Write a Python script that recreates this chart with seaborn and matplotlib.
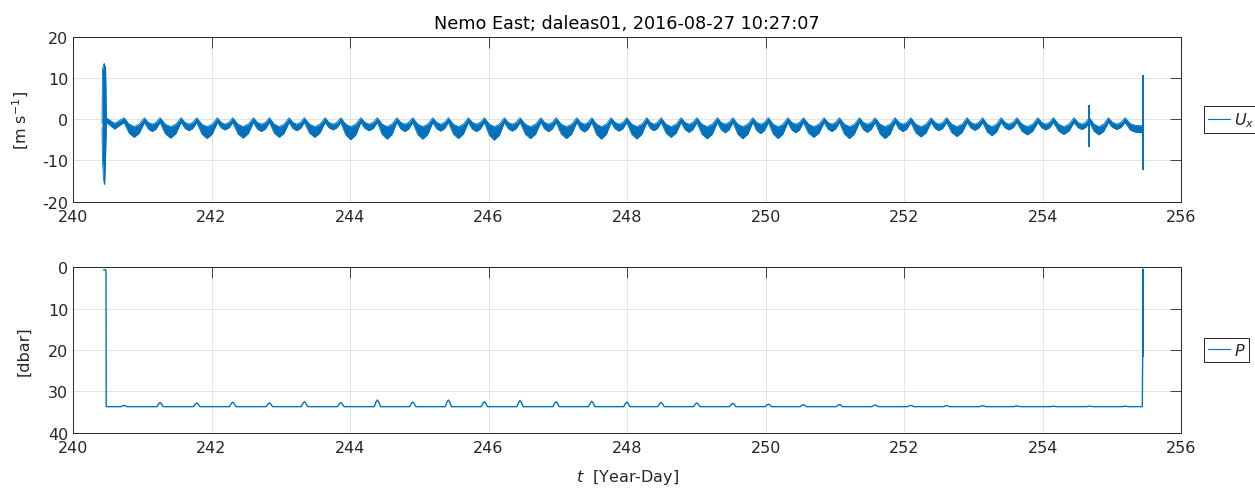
import numpy as np
import pandas as pd
import matplotlib
matplotlib.use("Agg")
import matplotlib.pyplot as plt
from matplotlib.lines import Line2D
import seaborn as sns

TITLE = "Nemo East; daleas01, 2016-08-27 10:27:07"
X_TICKS = [240, 242, 244, 246, 248, 250, 252, 254, 256]
UX_TICKS = [-20, -10, 0, 10, 20]
P_TICKS = [0, 10, 20, 30, 40]

# --- U_x record -------------------------------------------------------------
# year-day of each tidal crest of U_x (m/s)
crest_days = [
    240.736, 241.030, 241.256, 241.560, 241.786, 242.084, 242.306, 242.604,
    242.835, 243.119, 243.340, 243.639, 243.866, 244.155, 244.394, 244.675,
    244.905, 245.194, 245.420, 245.708, 245.939, 246.228, 246.455, 246.754,
    246.975, 247.274, 247.490, 247.769, 247.996, 248.285, 248.491, 248.780,
    249.007, 249.304, 249.527, 249.815, 250.040, 250.321, 250.546, 250.845,
    251.066, 251.355, 251.581, 251.870, 252.097, 252.390, 252.614, 252.910,
    253.134, 253.401, 253.628, 253.931, 254.156, 254.455, 254.676, 254.950,
    255.191,
]
# deepest U_x reached between consecutive crests (long and short troughs alternate)
trough_min = [
    -4.4, -3.0, -4.6, -2.8, -4.7, -2.6, -4.6, -3.0, -4.4, -2.8, -4.4, -2.6,
    -5.0, -2.8, -4.85, -3.0, -4.85, -2.9, -4.7, -3.0, -5.1, -2.9, -4.7, -3.0,
    -4.7, -3.1, -4.85, -2.9, -4.8, -2.8, -4.4, -3.2, -4.75, -3.3, -4.75, -3.5,
    -4.7, -3.3, -4.4, -3.0, -4.7, -3.2, -4.7, -3.0, -4.3, -2.8, -4.2, -2.7,
    -4.0, -2.6, -3.8, -2.6, -3.7, -2.5, -3.8, -2.5,
]
# upper edge of the noisy band inside each trough
trough_top = [
    -1.8 if k % 2 == 0 else -1.2 for k in range(len(trough_min))
]
crest_top, crest_bottom = 0.35, -0.8

# deployment / recovery bursts and the glitch near day 254.7
burst_days = [240.418, 240.425, 240.440, 240.452, 240.457, 240.470, 240.482]
burst_hi = [-1.0, 12.0, 13.3, 13.5, 13.0, 12.6, 0.3]
burst_lo = [-2.0, -10.0, -14.5, -15.6, -15.8, -9.0, -0.8]
lead_days = [240.482, 240.600]
lead_hi = [0.3, -1.0]
lead_lo = [-0.8, -2.4]
tail_day, tail_min = 255.447, -3.3
spike_days = [254.676, 255.447]
spike_hi = [3.5, 10.8]
spike_lo = [-6.7, -12.3]

# --- Pressure record ---------------------------------------------------------
p_floor = 33.7
bump_days = [
    240.736, 241.256, 241.786, 242.306, 242.835, 243.340, 243.866, 244.394,
    244.905, 245.420, 245.939, 246.455, 246.975, 247.490, 247.996, 248.491,
    249.007, 249.527, 250.040, 250.546, 251.066, 251.581, 252.097, 252.614,
    253.134, 253.628, 254.156, 254.676, 255.191,
]
bump_height = [
    0.3, 1.0, 0.9, 1.1, 0.9, 1.2, 1.0, 1.6, 1.1, 1.6, 1.2, 1.5, 1.2, 1.3, 1.1,
    1.0, 0.9, 0.8, 0.6, 0.5, 0.5, 0.4, 0.3, 0.25, 0.2, 0.15, 0.1, 0.1, 0.1,
]
surface_start_days = [240.440, 240.470, 240.476, 240.479]
surface_start_p = [0.6, 0.6, 0.9, p_floor]
surface_end_days = [255.440, 255.445, 255.448, 255.452, 255.455]
surface_end_p = [p_floor, 22.0, 0.4, 21.5, 0.6]

BLUE = "#0072BD"
INK = "#262626"

# ---- assemble the U_x band ------------------------------------------------
fracs = [0.25, 0.5, 0.75]
shape = [0.72, 1.0, 0.72]
t_u, hi_u, lo_u = list(burst_days), list(burst_hi), list(burst_lo)
t_u += lead_days
hi_u += lead_hi
lo_u += lead_lo
for i in range(len(crest_days) - 1):
    a, b = crest_days[i], crest_days[i + 1]
    t_u.append(a); hi_u.append(crest_top); lo_u.append(crest_bottom)
    for f, s in zip(fracs, shape):
        t_u.append(a + f * (b - a))
        hi_u.append(crest_top + s * (trough_top[i] - crest_top))
        lo_u.append(crest_bottom + s * (trough_min[i] - crest_bottom))
a = crest_days[-1]
t_u.append(a); hi_u.append(crest_top); lo_u.append(crest_bottom)
for f, s in zip([0.3, 0.6, 1.0], [0.75, 0.95, 1.0]):
    t_u.append(a + f * (tail_day - a))
    hi_u.append(crest_top + s * (-1.6 - crest_top))
    lo_u.append(crest_bottom + s * (tail_min - crest_bottom))
ux = pd.DataFrame({"t": t_u, "hi": hi_u, "lo": lo_u})

# ---- assemble the pressure trace ------------------------------------------
t_p, p_v = list(surface_start_days), list(surface_start_p)
offs = [-0.045, -0.02, 0.0, 0.02, 0.045]
prof = [0.0, 0.7, 1.0, 0.7, 0.0]
for d, h in zip(bump_days, bump_height):
    for o, s in zip(offs, prof):
        t_p.append(d + o)
        p_v.append(p_floor - s * h)
t_p += surface_end_days
p_v += surface_end_p
pres = pd.DataFrame({"t": t_p, "p": p_v})

# ---- styling ---------------------------------------------------------------
sns.set_style("white")
plt.rcParams["font.family"] = ["DejaVu Sans"]
plt.rcParams.update({
    "mathtext.fontset": "dejavusans",
    "axes.unicode_minus": False,
    "font.size": 11.5,
})
FS = 11.5

fig = plt.figure(figsize=(12.55, 4.89), dpi=100)
ax1 = fig.add_axes([0.0582, 0.5855, 0.8829, 0.3374])
ax2 = fig.add_axes([0.0582, 0.1131, 0.8829, 0.3382])

for ax in (ax1, ax2):
    ax.set_facecolor("white")
    ax.grid(True, color="#e3e3e3", lw=0.7)
    ax.set_axisbelow(True)
    for sp in ax.spines.values():
        sp.set_color(INK)
        sp.set_linewidth(0.7)
        sp.set_visible(True)
    ax.tick_params(direction="in", length=8, width=0.6, color=INK,
                   top=True, right=True, labelsize=FS, labelcolor=INK)
    ax.tick_params(axis="x", pad=5.0)
    ax.set_xlim(240, 256)
    ax.set_xticks(X_TICKS)

# upper panel: U_x
ax1.fill_between(ux["t"], ux["lo"], ux["hi"], color=BLUE, lw=0)
sns.lineplot(data=ux, x="t", y="hi", ax=ax1, color=BLUE, lw=0.6,
             estimator=None, sort=False, legend=False)
sns.lineplot(data=ux, x="t", y="lo", ax=ax1, color=BLUE, lw=0.6,
             estimator=None, sort=False, legend=False)
ax1.vlines(spike_days, spike_lo, spike_hi, color=BLUE, lw=1.4)
ax1.set_ylim(-20, 20)
ax1.set_yticks(UX_TICKS)
ax1.set_xlabel("")
ax1.set_ylabel(r"[m s$^{\mathsf{-1}}$]", fontsize=FS, color=INK)
ax1.yaxis.set_label_coords(-0.038, 0.5)
ax1.set_title(TITLE, fontsize=12.7, color="black", pad=6)

# lower panel: pressure (depth downward)
sns.lineplot(data=pres, x="t", y="p", ax=ax2, color=BLUE, lw=1.0,
             estimator=None, sort=False, legend=False)
ax2.set_ylim(40, 0)
ax2.set_yticks(P_TICKS)
ax2.set_ylabel("[dbar]", fontsize=FS, color=INK)
ax2.yaxis.set_label_coords(-0.038, 0.5)
ax2.set_xlabel(r"$t$  [Year-Day]", fontsize=FS, color=INK)
ax2.xaxis.set_label_coords(0.5, -0.208)

for ax, lab, yc in ((ax1, r"$U_x$", 0.7536), (ax2, r"$P$", 0.2826)):
    leg = ax.legend(handles=[Line2D([], [], color=BLUE, lw=0.8, label=lab)],
                    loc="center left", bbox_to_anchor=(0.9594, yc),
                    bbox_transform=fig.transFigure, frameon=True,
                    fancybox=False, edgecolor="black", framealpha=1,
                    handlelength=1.4, handletextpad=0.2, borderpad=0.25,
                    borderaxespad=0, fontsize=FS)
    leg.get_frame().set_linewidth(0.6)

fig.savefig("out.png", dpi=100, facecolor="white")
